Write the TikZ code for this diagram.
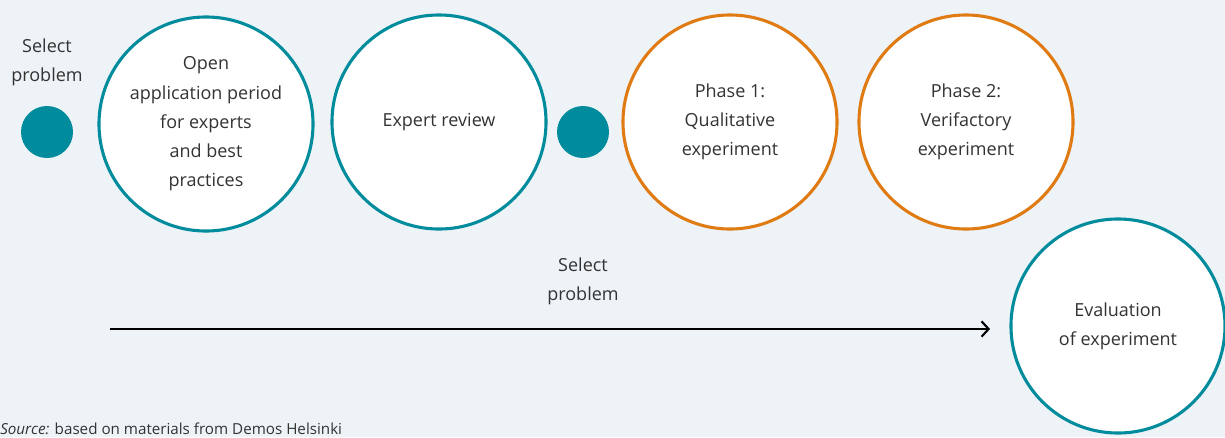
\documentclass[tikz,border=0pt]{standalone}
\usepackage{fontspec}
\setmainfont{Open Sans}
\usepackage{tikz}
\usetikzlibrary{arrows.meta, positioning}

\definecolor{bgcol}{HTML}{EEF3F7}
\definecolor{tealc}{HTML}{008C9C}
\definecolor{orangec}{HTML}{E07B14}
\definecolor{txtc}{HTML}{333333}

\tikzset{
  stage/.style={circle, draw=tealc, line width=2.2pt, fill=white, minimum size=5.35cm,
    inner sep=0pt, align=center, text=txtc, font=\fontsize{12.8}{20.8}\selectfont},
  phase/.style={stage, draw=orangec},
  dot/.style={circle, fill=tealc, minimum size=1.3cm, inner sep=0pt},
  lbl/.style={align=center, text=txtc, font=\fontsize{12.8}{20.8}\selectfont}
}

\begin{document}
\begin{tikzpicture}[x=0.025cm, y=-0.025cm]
    \fill[bgcol] (0,0) rectangle (1225,437);
    \useasboundingbox (0,0) rectangle (1225,437);
    \clip (0,0) rectangle (1225,437);

    \node[dot] (d1) at (47,132) {};
    \node[lbl] (s1) at (47,62) {Select\\problem};
    \node[stage] (apply) at (206,124) {Open\\application period\\for experts\\and best\\practices};
    \node[stage] (review) at (439,122) {Expert review};
    \node[dot] (d2) at (583,132) {};
    \node[phase] (ph1) at (730,122) {Phase 1:\\Qualitative\\experiment};
    \node[phase] (ph2) at (966,122) {Phase 2:\\Verifactory\\experiment};
    \node[stage] (eval) at (1118,326) {Evaluation\\of experiment};

    \coordinate (start) at (110,329);
    \coordinate (stop) at (990,329);
    \draw[line width=1.5pt, -{Straight Barb[length=5pt, width=11pt, line width=1.5pt]}] (start) -- (stop);
    \node[lbl] (s2) at (583,281) {Select\\problem};

    \node[anchor=base west, text=txtc, font=\fontsize{10.8}{12}\selectfont, inner sep=0pt] (src) at (0,434)
      {\textit{Source:} based on materials from Demos Helsinki};
\end{tikzpicture}
\end{document}
